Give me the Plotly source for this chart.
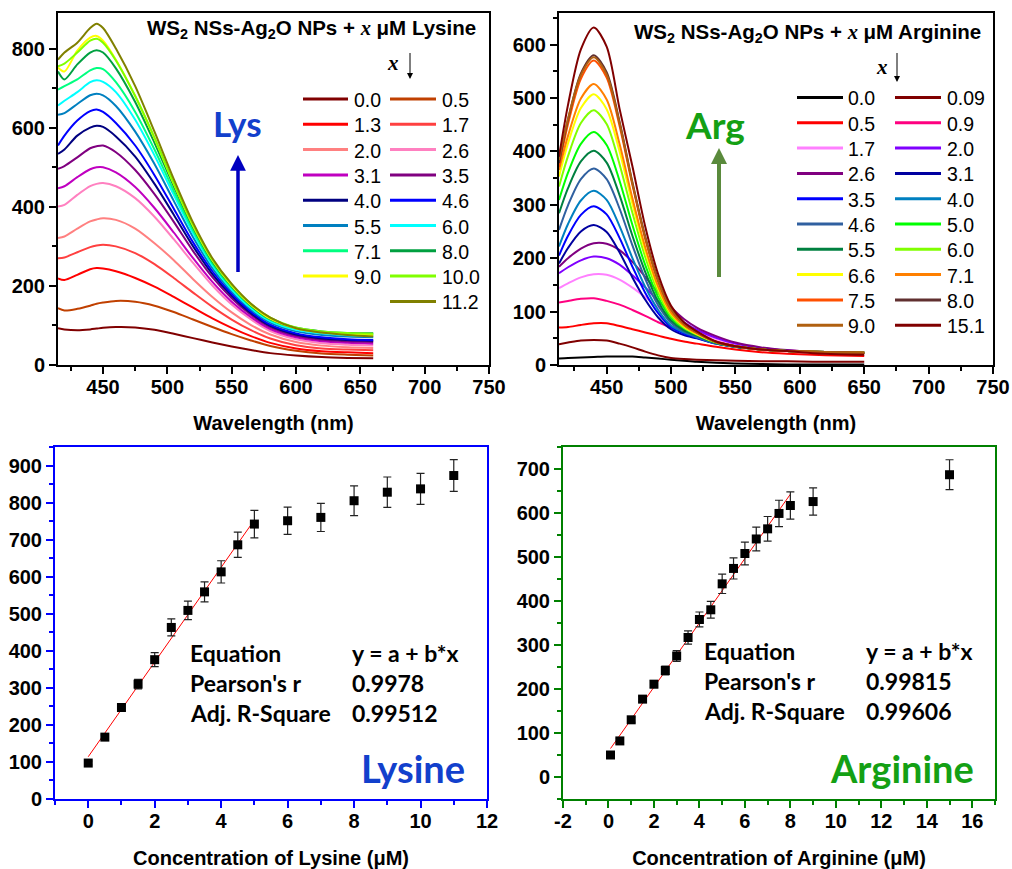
import numpy as np
import plotly.graph_objects as go

W, H = 1012, 869

# ---------------- Top-left: Lysine spectra ----------------
lys_wl = [415, 420, 430, 440, 445, 450, 460, 475, 490, 505, 520, 535, 550, 565, 580, 600, 620, 640, 660]
lys_conc = ['0.0', '0.5', '1.3', '1.7', '2.0', '2.6', '3.1', '3.5', '4.0', '4.6', '5.5', '6.0', '7.1', '8.0', '9.0', '10.0', '11.2']
lys_colors = ['#800000', '#c04000', '#ff0000', '#ff4040', '#ff8080', '#ff80c0', '#c000c0', '#800080', '#000080',
              '#0000ff', '#0080c0', '#00ffff', '#00ff80', '#00a040', '#ffff00', '#80ff00', '#808000']
lys_00 = [93, 90, 88, 90, 92, 94, 96, 95, 89, 79, 68, 57, 47, 38, 30, 24, 20, 18, 17]
lys_05 = [144, 138, 142, 150, 155, 158, 162, 160, 150, 134, 115, 96, 78, 62, 48, 36, 29, 26, 24]
lys_13 = [219, 215, 228, 242, 245, 244, 237, 220, 198, 172, 145, 118, 94, 73, 56, 42, 35, 32, 30]
lys_17 = [270, 272, 285, 298, 302, 304, 300, 283, 255, 220, 183, 147, 115, 88, 67, 50, 42, 39, 37]
lys_20 = [321, 325, 345, 363, 368, 371, 367, 345, 308, 265, 217, 172, 133, 101, 77, 58, 49, 45, 43]
lys_26 = [401, 405, 430, 452, 458, 460, 452, 422, 375, 318, 258, 201, 153, 115, 86, 65, 55, 51, 49]
lys_31 = [447, 452, 475, 495, 500, 500, 487, 450, 397, 335, 270, 210, 160, 121, 91, 70, 60, 56, 54]
lys_35 = [496, 503, 525, 548, 553, 555, 538, 493, 432, 362, 288, 222, 169, 127, 96, 74, 64, 60, 58]
lys_40 = [534, 545, 580, 600, 605, 602, 578, 527, 458, 380, 300, 230, 175, 131, 99, 77, 67, 63, 61]
lys_46 = [555, 580, 618, 642, 646, 640, 612, 555, 480, 395, 310, 237, 180, 135, 102, 80, 70, 65, 63]
lys_55 = [633, 637, 660, 682, 686, 682, 655, 590, 508, 415, 323, 245, 186, 140, 107, 85, 76, 72, 70]
lys_60 = [656, 668, 690, 715, 720, 716, 690, 620, 530, 430, 333, 252, 191, 144, 111, 89, 80, 75, 73]
lys_71 = [696, 705, 722, 745, 751, 748, 715, 640, 545, 440, 340, 257, 195, 148, 114, 92, 83, 79, 77]
lys_80 = [742, 722, 760, 790, 796, 790, 750, 665, 562, 452, 348, 262, 199, 150, 116, 94, 85, 81, 80]
lys_90 = [752, 742, 795, 828, 832, 820, 772, 680, 573, 458, 352, 265, 201, 152, 117, 93, 83, 78, 76]
lys_100 = [755, 762, 790, 820, 825, 815, 770, 680, 575, 460, 355, 267, 203, 154, 120, 95, 85, 81, 79]
lys_112 = [772, 790, 815, 852, 863, 852, 800, 705, 590, 470, 360, 270, 205, 155, 120, 93, 82, 76, 72]
lys_spectra = [lys_00, lys_05, lys_13, lys_17, lys_20, lys_26, lys_31, lys_35, lys_40, lys_46,
               lys_55, lys_60, lys_71, lys_80, lys_90, lys_100, lys_112]

# ---------------- Top-right: Arginine spectra ----------------
arg_wl = [413, 420, 430, 440, 450, 460, 470, 480, 490, 500, 510, 520, 535, 550, 570, 590, 610, 630, 650]
arg_conc = ['0.0', '0.09', '0.5', '0.9', '1.7', '2.0', '2.6', '3.1', '3.5', '4.0', '4.6', '5.0', '5.5', '6.0',
            '6.6', '7.1', '7.5', '8.0', '9.0', '15.1']
arg_colors = ['#000000', '#800000', '#ff0000', '#ff0080', '#ff80ff', '#8000ff', '#800080', '#0000a0', '#0000ff',
              '#0080c0', '#3060a0', '#00ff00', '#008040', '#80ff00', '#ffff00', '#ff8000', '#ff5000', '#603030',
              '#b06010', '#800000']
arg_000 = [12, 13, 14, 15, 16, 16, 16, 14, 12, 10, 8, 6, 4, 3, 2, 1, 1, 1, 1]
arg_009 = [39, 42, 46, 47, 46, 40, 33, 25, 18, 13, 11, 10, 9, 8, 7, 7, 6, 6, 6]
arg_05 = [70, 71, 75, 78, 78, 73, 67, 61, 55, 49, 44, 40, 34, 29, 24, 21, 19, 18, 17]
arg_09 = [117, 120, 124, 125, 120, 113, 103, 92, 80, 70, 61, 54, 44, 37, 31, 27, 25, 23, 22]
arg_17 = [144, 153, 164, 170, 169, 160, 145, 127, 108, 90, 75, 62, 49, 39, 31, 26, 24, 23, 22]
arg_20 = [172, 183, 196, 203, 200, 188, 168, 145, 120, 98, 80, 66, 51, 40, 32, 27, 25, 24, 23]
arg_26 = [184, 200, 218, 228, 227, 215, 193, 165, 135, 108, 86, 70, 54, 42, 33, 28, 25, 24, 23]
arg_31 = [190, 219, 250, 262, 249, 211, 164, 122, 89, 67, 56, 50, 40, 34, 29, 26, 25, 24, 23]
arg_35 = [205, 242, 281, 297, 282, 238, 184, 135, 97, 71, 59, 51, 40, 34, 29, 26, 25, 24, 23]
arg_40 = [222, 264, 308, 326, 309, 260, 200, 146, 103, 74, 61, 52, 40, 34, 29, 26, 25, 24, 23]
arg_46 = [253, 299, 348, 368, 348, 293, 224, 161, 112, 79, 63, 53, 41, 34, 29, 26, 25, 24, 23]
arg_50 = [309, 360, 414, 436, 412, 345, 262, 187, 127, 88, 68, 56, 42, 35, 29, 26, 25, 24, 23]
arg_55 = [284, 331, 381, 401, 379, 318, 242, 174, 119, 83, 65, 55, 41, 34, 29, 26, 25, 24, 23]
arg_60 = [334, 391, 453, 477, 451, 376, 285, 202, 136, 92, 70, 57, 42, 35, 29, 26, 25, 24, 23]
arg_66 = [353, 415, 481, 507, 479, 400, 302, 213, 143, 96, 72, 58, 43, 35, 29, 26, 25, 24, 23]
arg_71 = [365, 429, 499, 526, 497, 414, 312, 220, 147, 98, 74, 59, 43, 35, 29, 26, 25, 24, 23]
arg_75 = [371, 451, 536, 570, 538, 448, 337, 236, 157, 104, 76, 61, 43, 35, 29, 26, 25, 24, 23]
arg_80 = [378, 459, 546, 580, 548, 456, 342, 240, 159, 105, 77, 61, 43, 35, 29, 26, 25, 24, 23]
arg_90 = [384, 461, 543, 576, 544, 453, 340, 238, 158, 104, 77, 61, 43, 35, 29, 26, 25, 24, 23]
arg_151 = [390, 487, 591, 632, 596, 480, 372, 259, 170, 111, 80, 63, 44, 35, 29, 26, 22, 20, 19]
arg_spectra = [arg_000, arg_009, arg_05, arg_09, arg_17, arg_20, arg_26, arg_31, arg_35, arg_40, arg_46,
               arg_50, arg_55, arg_60, arg_66, arg_71, arg_75, arg_80, arg_90, arg_151]

# ---------------- Bottom: calibration points ----------------
lys_x = [0, 0.5, 1, 1.5, 2, 2.5, 3, 3.5, 4, 4.5, 5, 6, 7, 8, 9, 10, 11]
lys_y = [97, 167, 247, 310, 376, 463, 509, 559, 613, 686, 742, 751, 760, 805, 828, 837, 873]
lys_err = [5, 6, 9, 13, 19, 23, 25, 27, 30, 34, 37, 37, 38, 40, 41, 42, 43]
lys_fit_n = 11

arg_x = [0.09, 0.5, 1, 1.5, 2, 2.5, 3, 3.5, 4, 4.5, 5, 5.5, 6, 6.5, 7, 7.5, 8, 9, 15]
arg_y = [50, 82, 130, 177, 211, 242, 275, 317, 358, 380, 439, 474, 508, 541, 564, 599, 617, 626, 687]
arg_err = [4, 5, 6, 6, 8, 10, 12, 15, 17, 19, 22, 24, 26, 27, 28, 30, 31, 31, 34]
arg_fit_n = 17

lys_xticks = [0, 2, 4, 6, 8, 10, 12]
arg_xticks = [-2, 0, 2, 4, 6, 8, 10, 12, 14, 16]

lys_stats = ['y = a + b*x', '0.9978', '0.99512']
arg_stats = ['y = a + b*x', '0.99815', '0.99606']
stat_names = ['Equation', "Pearson's r", 'Adj. R-Square']

# ---------------- helpers ----------------
def px(x):
    return x / W

def py(y):
    return 1 - y / H

SANS = 'Liberation Sans'
CAL = 'Lato'
TICKFONT = dict(family=SANS, size=20, color='black', weight='bold')

fig = go.Figure()

for s, c, n in zip(lys_spectra, lys_colors, lys_conc):
    fig.add_trace(go.Scatter(x=lys_wl, y=s, mode='lines', line=dict(color=c, width=2, shape='spline', smoothing=0.8),
                             name=n, showlegend=False, xaxis='x', yaxis='y'))
for s, c, n in zip(arg_spectra, arg_colors, arg_conc):
    fig.add_trace(go.Scatter(x=arg_wl, y=s, mode='lines', line=dict(color=c, width=2, shape='spline', smoothing=0.8),
                             name=n, showlegend=False, xaxis='x2', yaxis='y2'))

def add_cal(xs, ys, errs, nfit, xa, ya):
    b, a = np.polyfit(xs[:nfit], ys[:nfit], 1)
    xf = [xs[0], xs[nfit - 1]]
    fig.add_trace(go.Scatter(x=xf, y=[a + b * v for v in xf], mode='lines', line=dict(color='red', width=1),
                             showlegend=False, xaxis=xa, yaxis=ya))
    fig.add_trace(go.Scatter(x=xs, y=ys, mode='markers', marker=dict(symbol='square', size=9, color='black'),
                             error_y=dict(type='data', array=errs, color='#222222', thickness=1.2, width=4),
                             showlegend=False, xaxis=xa, yaxis=ya))

add_cal(lys_x, lys_y, lys_err, lys_fit_n, 'x3', 'y3')
add_cal(arg_x, arg_y, arg_err, arg_fit_n, 'x4', 'y4')

def axis(color, rng, dtick, mdtick, dom, anchor, title=None, standoff=14, isx=False, tickvals=None):
    d = dict(range=rng, domain=dom, anchor=anchor, showline=True, linecolor=color, linewidth=2, mirror=True,
             ticks='outside', ticklen=7, tickwidth=2, tickcolor=color, tick0=0, dtick=dtick,
             minor=dict(ticks='outside', ticklen=4, tickwidth=2, tickcolor=color, dtick=mdtick, tick0=0),
             showgrid=False, zeroline=False, tickfont=TICKFONT, ticklabelstandoff=(-4 if isx else 0))
    if tickvals is not None:
        d['tickmode'] = 'array'
        d['tickvals'] = tickvals
        d['ticktext'] = [str(v) for v in tickvals]
    if title:
        d['title'] = dict(text=title, font=dict(family=SANS, size=20, color='black', weight='bold'),
                          standoff=standoff)
    return d

TLx = [px(58), px(489)]; TRx = [px(559), px(993)]
BLx = [px(55), px(487)]; BRx = [px(563), px(995)]
Ty = [py(365), py(13)]; By = [py(799), py(447)]

fig.update_layout(
    width=W, height=H, margin=dict(l=0, r=0, t=0, b=0), template='none',
    paper_bgcolor='white', plot_bgcolor='white', showlegend=False,
    xaxis=axis('black', [415, 750], 50, 25, TLx, 'y', 'Wavelength (nm)', 19, True),
    yaxis=axis('black', [0, 890], 200, 100, Ty, 'x'),
    xaxis2=axis('black', [413, 750], 50, 25, TRx, 'y2', 'Wavelength (nm)', 19, True),
    yaxis2=axis('black', [0, 659], 100, 50, Ty, 'x2'),
    xaxis3=axis('#0000ff', [-1, 12], 2, 1, BLx, 'y3', 'Concentration of Lysine (μM)', 20, True, lys_xticks),
    yaxis3=axis('#0000ff', [0, 950], 100, 50, By, 'x3'),
    xaxis4=axis('#008000', [-2, 17], 2, 1, BRx, 'y4', 'Concentration of Arginine (μM)', 20, True, arg_xticks),
    yaxis4=axis('#008000', [-50, 750], 100, 50, By, 'x4'),
)

ann = []
shapes = []

def text(x, y, t, size, family=SANS, color='black', xanchor='left', weight='normal'):
    ann.append(dict(x=px(x), y=py(y), xref='paper', yref='paper', text=t, showarrow=False, xanchor=xanchor,
                    yanchor='middle', font=dict(family=family, size=size, color=color, weight=weight)))

def arrow(xt, yt, ay, color, width, head=2, size=1.0):
    ann.append(dict(x=px(xt), y=py(yt), xref='paper', yref='paper', text=' ', showarrow=True, ax=0, ay=ay,
                    arrowcolor=color, arrowwidth=width, arrowhead=head, arrowsize=size,
                    font=dict(size=2)))

XI = '<span style="font-family:Liberation Serif"><i>x</i></span>'
text(478, 29, 'WS<sub>2</sub> NSs-Ag<sub>2</sub>O NPs + ' + XI + ' μM Lysine', 20.5, xanchor='right', weight='bold')
text(983, 33, 'WS<sub>2</sub> NSs-Ag<sub>2</sub>O NPs + ' + XI + ' μM Arginine', 20.5, xanchor='right', weight='bold')
text(393, 63, XI, 21, xanchor='center', weight='bold')
text(882, 67, XI, 21, xanchor='center', weight='bold')
arrow(410, 79, -29, 'black', 1, 2, 1.2)
arrow(897, 82, -32, 'black', 1, 2, 1.2)

text(237, 123, 'Lys', 35, CAL, '#1240cc', 'center', 'bold')
arrow(238, 155, 120, '#0000c0', 3.5, 2, 0.9)
text(715, 125, 'Arg', 37, CAL, '#14a014', 'center', 'bold')
arrow(719, 148, 132, '#5a8a3c', 4, 2, 0.8)


def legend(conc, colors, lx, tx, y0, dy):
    n = len(conc)
    for i, (c, col) in enumerate(zip(conc, colors)):
        row, k = divmod(i, 2)
        if i == n - 1 and n % 2 == 1:
            k = 1
        yy = y0 + row * dy
        shapes.append(dict(type='line', xref='paper', yref='paper', x0=px(lx[k][0]), x1=px(lx[k][1]),
                           y0=py(yy), y1=py(yy), line=dict(color=col, width=3)))
        text(tx[k], yy + 1, c, 19.5)

legend(lys_conc, lys_colors, [(303, 348), (390, 436)], [352, 440], 99, 25.3)
legend(arg_conc, arg_colors, [(797, 843), (895, 941)], [846, 945], 97.5, 25.3)

for i, (nm, v) in enumerate(zip(stat_names, lys_stats)):
    text(188, 653 + i * 30, nm, 23, CAL, 'black', 'left', 'bold')
    text(350, 653 + i * 30, v, 23, CAL, 'black', 'left', 'bold')
for i, (nm, v) in enumerate(zip(stat_names, arg_stats)):
    text(702, 651 + i * 30, nm, 23, CAL, 'black', 'left', 'bold')
    text(864, 651 + i * 30, v, 23, CAL, 'black', 'left', 'bold')

text(467, 768, 'Lysine', 38, CAL, '#1240cc', 'right', 'bold')
text(976, 768, 'Arginine', 38, CAL, '#14a014', 'right', 'bold')

fig.update_layout(annotations=ann, shapes=shapes)
fig.write_html('out.html')
